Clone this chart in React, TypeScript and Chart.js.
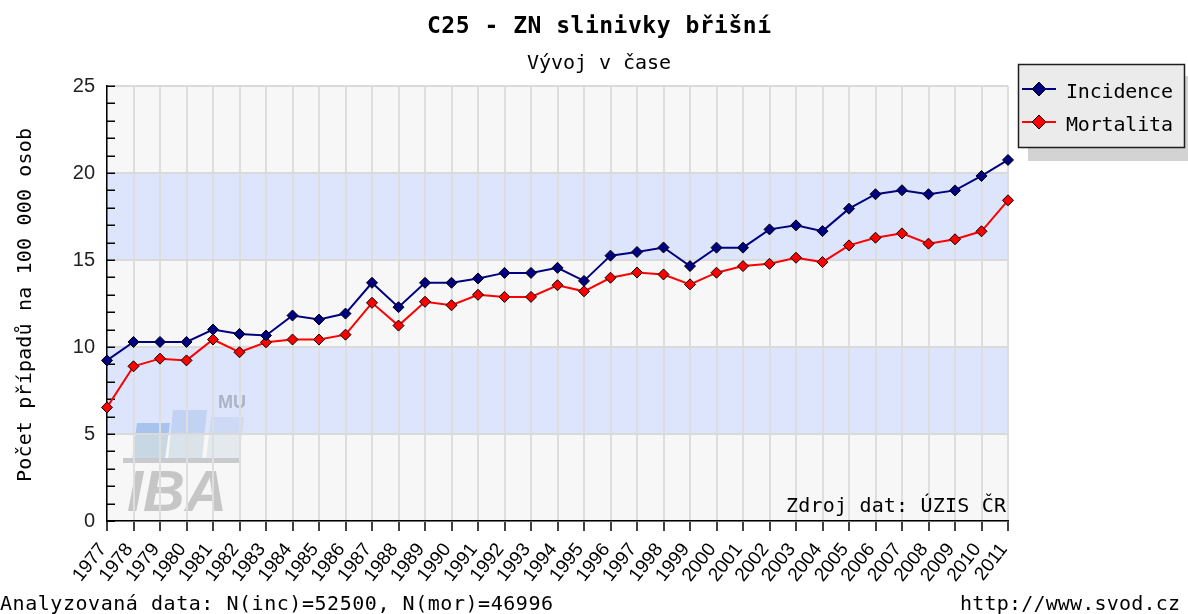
import React, { useEffect, useRef } from 'react';
import { Chart, registerables } from 'chart.js';

Chart.register(...registerables);

const years = ['1977', '1978', '1979', '1980', '1981', '1982', '1983', '1984', '1985', '1986', '1987', '1988', '1989', '1990', '1991', '1992', '1993', '1994', '1995', '1996', '1997', '1998', '1999', '2000', '2001', '2002', '2003', '2004', '2005', '2006', '2007', '2008', '2009', '2010', '2011'];
const incidence = [9.23, 10.29, 10.29, 10.29, 11.0, 10.75, 10.66, 11.81, 11.58, 11.92, 13.69, 12.29, 13.69, 13.69, 13.94, 14.26, 14.26, 14.55, 13.8, 15.25, 15.46, 15.72, 14.65, 15.71, 15.71, 16.76, 16.99, 16.66, 17.95, 18.78, 19.01, 18.78, 19.0, 19.83, 20.75];
const mortalita = [6.53, 8.89, 9.33, 9.23, 10.43, 9.7, 10.27, 10.43, 10.43, 10.71, 12.54, 11.23, 12.6, 12.4, 13.0, 12.88, 12.88, 13.55, 13.2, 13.98, 14.28, 14.17, 13.6, 14.27, 14.65, 14.78, 15.13, 14.88, 15.84, 16.28, 16.53, 15.94, 16.19, 16.65, 18.43];
const yBands = [0, 5, 10, 15, 20, 25];
const seriesNames = ['Incidence', 'Mortalita'];
const seriesColors = ['#000080', '#ff0000'];

const titleText = 'C25 - ZN slinivky břišní';
const subtitleText = 'Vývoj v čase';
const yTitleText = 'Počet případů na 100 000 osob';
const sourceText = 'Zdroj dat: ÚZIS ČR';
const footerLeft = 'Analyzovaná data: N(inc)=52500, N(mor)=46996';
const footerRight = 'http://www.svod.cz';

const MONO = "'DejaVu Sans Mono', monospace";
const SANS = "'Liberation Sans', Arial, sans-serif";

function spacedText(ctx: CanvasRenderingContext2D, text: string, x: number, y: number, font: string, width: number, align: 'left' | 'center' | 'right', color = '#000') {
  ctx.save();
  ctx.font = font;
  (ctx as any).letterSpacing = '0px';
  const w0 = ctx.measureText(text).width;
  const sp = (width - w0) / Math.max(1, text.length - 1);
  (ctx as any).letterSpacing = sp + 'px';
  let left = x;
  if (align === 'center') left = x - width / 2;
  if (align === 'right') left = x - width;
  ctx.textAlign = 'left';
  ctx.textBaseline = 'alphabetic';
  ctx.fillStyle = color;
  ctx.fillText(text, left, y);
  ctx.restore();
}

function diamond(ctx: CanvasRenderingContext2D, x: number, y: number, r: number, fill: string) {
  ctx.beginPath();
  ctx.moveTo(x, y - r);
  ctx.lineTo(x + r, y);
  ctx.lineTo(x, y + r);
  ctx.lineTo(x - r, y);
  ctx.closePath();
  ctx.fillStyle = fill;
  ctx.fill();
  ctx.strokeStyle = '#000';
  ctx.lineWidth = 1;
  ctx.stroke();
}

const decorPlugin = {
  id: 'decor',
  beforeDraw(chart: any) {
    const { ctx, chartArea: ca, scales } = chart;
    const ys = scales.y;
    ctx.save();
    ctx.fillStyle = '#ffffff';
    ctx.fillRect(0, 0, chart.width, chart.height);
    for (let i = 0; i < yBands.length - 1; i++) {
      const top = ys.getPixelForValue(yBands[i + 1]);
      const bot = ys.getPixelForValue(yBands[i]);
      ctx.fillStyle = i % 2 === 1 ? '#dde5fc' : '#f7f7f7';
      ctx.fillRect(ca.left, top, ca.right - ca.left, bot - top);
    }
    // IBA MU watermark
    const L = ca.left;
    const B = ca.bottom;
    const split = ys.getPixelForValue(5);
    const blocks = [
      { pts: [[30, -98], [63, -98], [58, -61], [25, -61]], up: '#a9c3ef', lo: '#c7d7e3' },
      { pts: [[66, -111], [100, -111], [95, -61], [61, -61]], up: '#c1d2f3', lo: '#dae2ea' },
      { pts: [[104, -104], [137, -104], [132, -61], [99, -61]], up: '#cdd9f5', lo: '#e4e9ee' },
    ];
    for (const b of blocks) {
      const path = () => {
        ctx.beginPath();
        b.pts.forEach((p, k) => (k === 0 ? ctx.moveTo(L + p[0], B + p[1]) : ctx.lineTo(L + p[0], B + p[1])));
        ctx.closePath();
      };
      ctx.save();
      ctx.beginPath();
      ctx.rect(0, 0, chart.width, split);
      ctx.clip();
      path();
      ctx.fillStyle = b.up;
      ctx.fill();
      ctx.restore();
      ctx.save();
      ctx.beginPath();
      ctx.rect(0, split, chart.width, chart.height);
      ctx.clip();
      path();
      ctx.fillStyle = b.lo;
      ctx.fill();
      ctx.restore();
    }
    ctx.fillStyle = '#c8cacd';
    ctx.fillRect(L + 16, B - 63, 117, 5);
    ctx.font = `italic bold 58px ${SANS}`;
    ctx.fillStyle = '#c6c6c6';
    ctx.textAlign = 'left';
    ctx.textBaseline = 'alphabetic';
    ctx.fillText('IBA', L + 20, B - 10);
    ctx.font = `bold 18px ${SANS}`;
    ctx.fillStyle = '#aab4c8';
    ctx.fillText('MU', L + 111, B - 113);
    ctx.restore();
  },
  beforeDatasetsDraw(chart: any) {
    const { ctx, chartArea: ca, scales } = chart;
    const ys = scales.y;
    ctx.save();
    ctx.strokeStyle = '#000';
    ctx.lineWidth = 1.5;
    for (let v = ys.min; v <= ys.max; v += 1) {
      const p = Math.round(ys.getPixelForValue(v)) + 0.25;
      ctx.beginPath();
      ctx.moveTo(ca.left, p);
      ctx.lineTo(ca.left + 8, p);
      ctx.stroke();
    }
    ctx.restore();
    spacedText(ctx, sourceText, ca.right - 2, ca.bottom - 9, `20px ${MONO}`, 220, 'right');
  },
  afterDraw(chart: any) {
    const { ctx } = chart;
    spacedText(ctx, titleText, 599, 33, `bold 23px ${MONO}`, 344, 'center');
    spacedText(ctx, subtitleText, 599, 69, `20px ${MONO}`, 144, 'center');
    ctx.save();
    ctx.translate(31, 305);
    ctx.rotate(-Math.PI / 2);
    spacedText(ctx, yTitleText, 0, 0, `20px ${MONO}`, 354, 'center');
    ctx.restore();
    spacedText(ctx, footerLeft, 0, 610, `20px ${MONO}`, 553, 'left');
    spacedText(ctx, footerRight, 1180, 610, `20px ${MONO}`, 220, 'right');
    ctx.save();
    ctx.fillStyle = '#d3d3d3';
    ctx.fillRect(1028, 76, 170, 85);
    ctx.fillStyle = '#ebebeb';
    ctx.fillRect(1018.5, 64.5, 166, 83);
    ctx.strokeStyle = '#1e1e1e';
    ctx.lineWidth = 1.5;
    ctx.strokeRect(1018.5, 64.5, 166, 83);
    const rows = [89, 122];
    chart.data.datasets.forEach((ds: any, i: number) => {
      const yy = rows[i];
      ctx.strokeStyle = ds.borderColor;
      ctx.lineWidth = 2;
      ctx.beginPath();
      ctx.moveTo(1022, yy);
      ctx.lineTo(1056, yy);
      ctx.stroke();
      diamond(ctx, 1039, yy, 7, ds.pointBackgroundColor);
      spacedText(ctx, ds.label, 1066, yy + 8.5, `20px ${MONO}`, 107, 'left');
    });
    ctx.restore();
  },
};

export default function App() {
  const ref = useRef<HTMLCanvasElement | null>(null);
  useEffect(() => {
    if (!ref.current) return;
    const mk = (i: number, data: number[]) => ({
      label: seriesNames[i],
      data,
      borderColor: seriesColors[i],
      backgroundColor: seriesColors[i],
      borderWidth: 2,
      pointStyle: 'rectRot' as const,
      pointRadius: 5.5,
      pointBackgroundColor: seriesColors[i],
      pointBorderColor: '#000',
      pointBorderWidth: 1,
      tension: 0,
      fill: false,
    });
    const chart = new Chart(ref.current, {
      type: 'line',
      data: { labels: years, datasets: [mk(0, incidence), mk(1, mortalita)] },
      options: {
        responsive: false,
        animation: false,
        layout: { padding: { top: 86, right: 180, left: 0, bottom: 0 } },
        plugins: { legend: { display: false }, title: { display: false }, tooltip: { enabled: false } },
        scales: {
          x: {
            type: 'category',
            offset: false,
            grid: { color: '#dedede', lineWidth: 2, tickColor: '#000', tickLength: 10, tickWidth: 1.5 },
            border: { color: '#000', width: 1.5 },
            ticks: { autoSkip: false, minRotation: 52, maxRotation: 52, color: '#000', padding: 8, labelOffset: -4, font: { family: SANS, size: 19 } },
            afterFit: (s: any) => { s.height = 93; },
          },
          y: {
            min: 0,
            max: 25,
            grid: {
              drawTicks: false,
              lineWidth: 2,
              color: (c: any) => (c.tick && c.tick.value % 5 === 0 ? '#dadada' : 'rgba(0,0,0,0)'),
            },
            border: { color: '#000', width: 1.5 },
            ticks: {
              stepSize: 1,
              autoSkip: false,
              padding: 12,
              color: '#222',
              font: { family: SANS, size: 20 },
              callback: (v: any) => (Number(v) % 5 === 0 ? String(v) : ''),
            },
            afterFit: (s: any) => { s.width = 107; },
          },
        },
      },
      plugins: [decorPlugin],
    });
    return () => chart.destroy();
  }, []);
  return (
    <div style={{ position: 'absolute', left: 0, top: 0, width: 1188, height: 614 }}>
      <canvas ref={ref} width={1188} height={614} />
    </div>
  );
}
